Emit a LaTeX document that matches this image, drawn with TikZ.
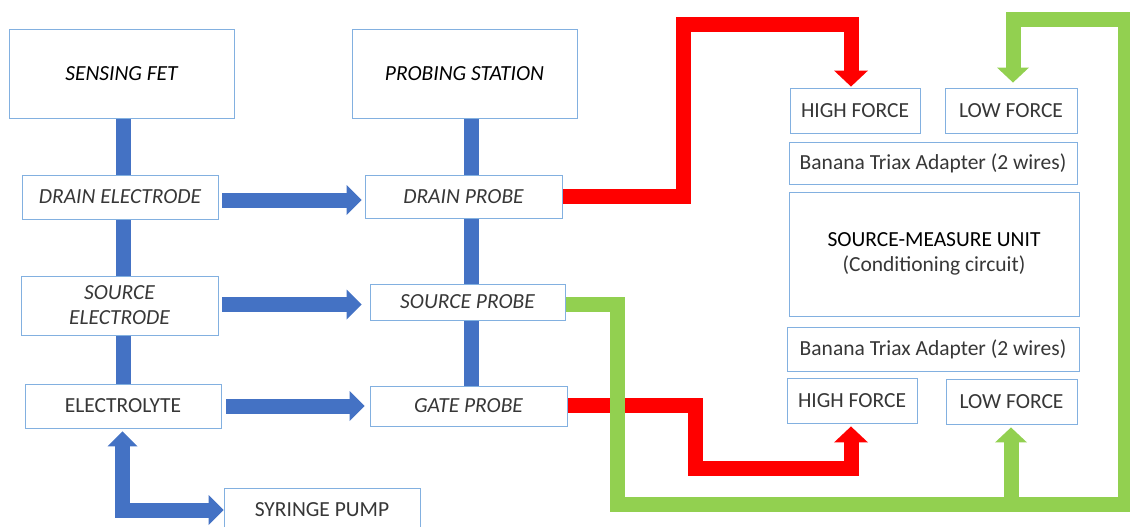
\documentclass[tikz,border=0pt]{standalone}
\usepackage{fontspec}
\setmainfont{Carlito}
\usetikzlibrary{arrows.meta,backgrounds}
\definecolor{boxline}{RGB}{130,176,224}
\definecolor{bluec}{RGB}{68,114,196}
\definecolor{redc}{RGB}{255,0,0}
\definecolor{greenc}{RGB}{146,208,80}
\definecolor{txt}{RGB}{55,55,55}
\begin{document}
\begin{tikzpicture}[x=1pt,y=-1pt,
  box/.style={draw=boxline,line width=0.9pt,fill=white,inner sep=0pt,align=center,text=txt,
    font=\fontsize{21.5}{25}\selectfont},
  ibox/.style={box,font=\fontsize{21.5}{25}\selectfont\itshape},
  bline/.style={draw=bluec,line width=15pt,line join=miter},
  barrow/.style={bline,-{Triangle[width=30pt,length=15pt,line width=0pt]}},
  bbarrow/.style={bline,{Triangle[width=30pt,length=15pt,line width=0pt]}-{Triangle[width=30pt,length=15pt,line width=0pt]}},
  rarrow/.style={draw=redc,line width=15pt,line join=miter,-{Triangle[width=34pt,length=16pt,line width=0pt]}},
  garrow/.style={draw=greenc,line width=15pt,line join=miter,-{Triangle[width=32pt,length=15pt,line width=0pt]}}
]
\useasboundingbox (0,0) rectangle (1130,527);

% left column
\node[ibox,text=black,minimum width=225pt,minimum height=89pt] (fet) at (121.5,73.5) {SENSING FET};
\node[ibox,minimum width=196pt,minimum height=44pt] (drainE) at (120,197) {DRAIN ELECTRODE};
\node[ibox,minimum width=197pt,minimum height=59pt] (sourceE) at (119.5,305.5) {SOURCE\\ELECTRODE};
\node[box,minimum width=196pt,minimum height=44pt] (electrolyte) at (123,406) {ELECTROLYTE};
\node[box,minimum width=196pt,minimum height=44pt] (syringe) at (322,510) {SYRINGE PUMP};

% middle column
\node[ibox,text=black,minimum width=225pt,minimum height=89pt] (station) at (464.5,73.5) {PROBING STATION};
\node[ibox,minimum width=197pt,minimum height=43pt] (drainP) at (463.5,196.5) {DRAIN PROBE};
\node[ibox,minimum width=195pt,minimum height=36pt] (sourceP) at (467.5,302) {SOURCE PROBE};
\node[ibox,minimum width=197pt,minimum height=40pt] (gateP) at (468.5,406) {GATE PROBE};

% right column
\node[box,minimum width=130pt,minimum height=45pt] (hf1) at (855,110.5) {HIGH FORCE};
\node[box,minimum width=132pt,minimum height=45pt] (lf1) at (1011,110.5) {LOW FORCE};
\node[box,minimum width=288pt,minimum height=42pt] (ban1) at (933,163) {Banana Triax Adapter (2 wires)};
\node[box,text=black,minimum width=290pt,minimum height=124pt] (smu) at (934,254)
  {SOURCE-MEASURE UNIT\\\textcolor{txt}{(Conditioning circuit)}};
\node[box,minimum width=292pt,minimum height=44pt] (ban2) at (933,349) {Banana Triax Adapter (2 wires)};
\node[box,minimum width=130pt,minimum height=45pt] (hf2) at (852,400.5) {HIGH FORCE};
\node[box,minimum width=131pt,minimum height=45pt] (lf2) at (1011.5,401.5) {LOW FORCE};

\coordinate (r1) at (683,24.5);
\coordinate (r2) at (695,468);
\coordinate (g1) at (617,504);
\coordinate (g2) at (1125,19.5);

\begin{scope}[on background layer]
  % blue
  \draw[bline] ([xshift=2pt]fet.south) -- ([xshift=2pt]fet.south |- electrolyte.north);
  \draw[bline] ([xshift=6.5pt]station.south) -- ([xshift=6.5pt]station.south |- gateP.north);
  \draw[barrow] ([xshift=4pt,yshift=-3pt]drainE.east) -- ([xshift=-3pt,yshift=-3pt]drainE.east -| drainP.west);
  \draw[barrow] ([xshift=4pt,yshift=1pt]sourceE.east) -- ([xshift=-8pt,yshift=1pt]sourceE.east -| sourceP.west);
  \draw[barrow] ([xshift=5pt]electrolyte.east) -- ([xshift=-5pt]electrolyte.east -| gateP.west);
  \draw[bbarrow] ([xshift=-0.5pt,yshift=-3pt]electrolyte.south) -- ([xshift=-0.5pt]electrolyte.south |- syringe.west) -- (syringe.west);
  % red
  \draw[rarrow] (drainP.east) -| (r1) -| ([xshift=-4pt,yshift=1pt]hf1.north);
  \draw[rarrow] ([yshift=1pt]gateP.east) -| (r2) -| ([xshift=-1pt,yshift=-3pt]hf2.south);
  % green
  \draw[garrow] ([yshift=-2pt]sourceP.east) -| (g1) -| ([xshift=-0.5pt,yshift=-3pt]lf2.south);
  \draw[garrow] (g1 -| lf2.south) -| (g2) -| ([xshift=2pt,yshift=5pt]lf1.north);
\end{scope}
\end{tikzpicture}
\end{document}
